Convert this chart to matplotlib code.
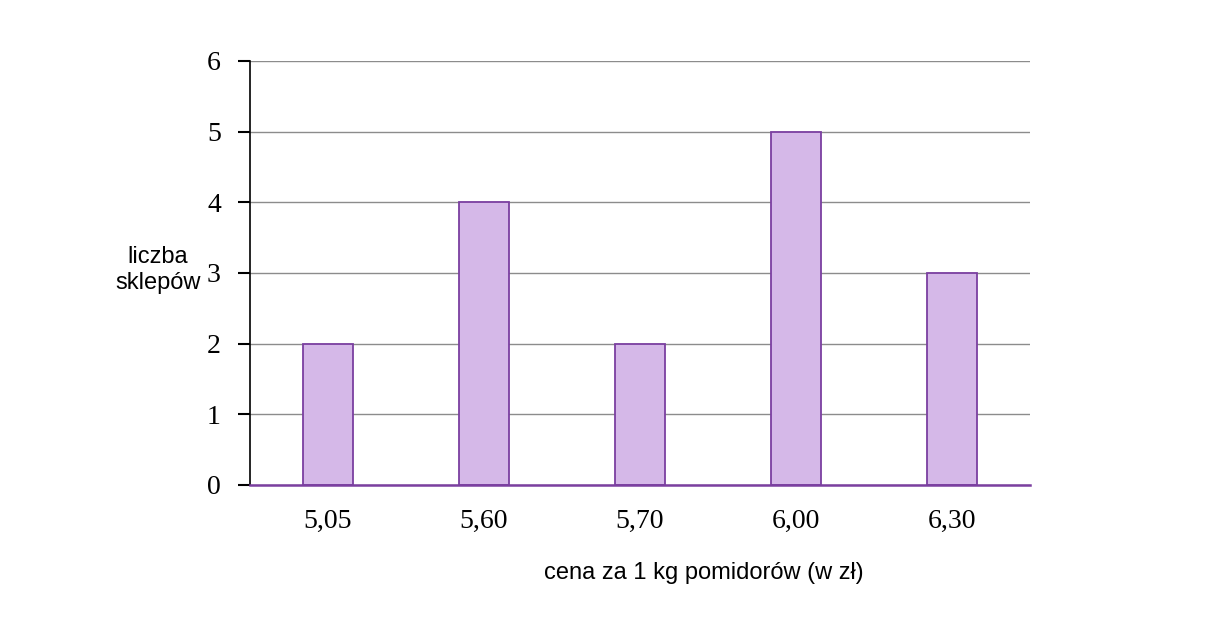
import matplotlib
matplotlib.use("Agg")
import matplotlib.pyplot as plt

categories = ["5,05", "5,60", "5,70", "6,00", "6,30"]
counts = [2, 4, 2, 5, 3]
yticks = [0, 1, 2, 3, 4, 5, 6]

fig = plt.figure(figsize=(12.15, 6.19), dpi=100)
ax = fig.add_axes([250/1215, 1-485/619, 780/1215, 424/619])

x = list(range(len(categories)))
ax.bar(x, counts, width=0.315, color="#D5B8E8", edgecolor="#7B3FA0", linewidth=1.3, zorder=3)
ax.set_xlim(-0.5, len(categories)-0.5)
ax.set_ylim(0, 6)
ax.set_yticks(yticks)
ax.set_xticks(x)
ax.set_xticklabels(categories)
ax.yaxis.grid(True, color="#8c8c8c", linewidth=1.0, zorder=0)
ax.set_axisbelow(True)
for s in ["top", "right"]:
    ax.spines[s].set_visible(False)
ax.spines["left"].set_color("black")
ax.spines["left"].set_linewidth(1.2)
ax.spines["bottom"].set_color("#7B3FA0")
ax.spines["bottom"].set_linewidth(1.8)
ax.spines["bottom"].set_zorder(4)
ax.tick_params(axis="y", length=9, width=1.5, direction="out", pad=12,
               labelsize=20)
ax.tick_params(axis="x", length=0, pad=17, labelsize=20)
for lab in ax.get_xticklabels() + ax.get_yticklabels():
    lab.set_fontfamily("Liberation Serif")

fig.text(158/1215, 1-270/619, "liczba\nsklepów", ha="center", va="center",
         fontsize=17, family="Liberation Sans", linespacing=1.25)
fig.text(704/1215, 1-573/619, "cena za 1 kg pomidorów (w zł)", ha="center", va="center",
         fontsize=17, family="Liberation Sans")

fig.savefig("out.png", dpi=100, facecolor="white")
